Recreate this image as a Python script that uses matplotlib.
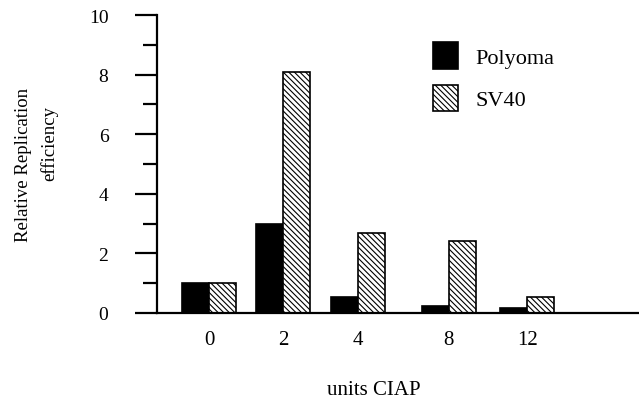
import matplotlib
matplotlib.use("Agg")
import matplotlib.pyplot as plt
import numpy as np

plt.rcParams['font.family'] = ['Liberation Serif', 'DejaVu Serif']
plt.rcParams['hatch.linewidth'] = 0.8

categories = ['0', '2', '4', '8', '12']
polyoma = [1.0, 3.0, 0.55, 0.25, 0.17]
sv40 = [1.0, 8.1, 2.7, 2.4, 0.55]

# group centres (uneven spacing as in the original)
x = np.array([0, 0.99, 2.0, 3.22, 4.27])
w = 0.36

fig = plt.figure(figsize=(6.39, 4.02), dpi=100)
ax = fig.add_axes([0.2457, 0.219, 0.754, 0.741])

ax.bar(x - w / 2, polyoma, w, color='black', edgecolor='black', linewidth=1.2, label='Polyoma')
ax.bar(x + w / 2, sv40, w, color='white', edgecolor='black', linewidth=1.2,
       hatch='\\\\\\\\\\\\', label='SV40')

ax.set_xlim(-0.70, 5.77)
ax.set_ylim(0, 10)
ax.set_xticks(x)
ax.set_xticklabels(categories)
ax.set_yticks([0, 2, 4, 6, 8, 10])
ax.set_yticks([1, 3, 5, 7, 9], minor=True)

ax.spines['top'].set_visible(False)
ax.spines['right'].set_visible(False)
ax.spines['left'].set_linewidth(1.6)
ax.spines['bottom'].set_linewidth(1.6)

ax.tick_params(axis='y', which='major', direction='out', length=16, width=1.6, labelsize=14, pad=19)
ax.tick_params(axis='y', which='minor', direction='out', length=10, width=1.6)
ax.tick_params(axis='x', length=0, labelsize=15, pad=12)

# axis titles (the two y-label lines are not centred on each other in the original)
fig.text(374 / 639, 1 - 391 / 402, 'units CIAP', fontsize=15, ha='center', va='center')
fig.text(24 / 639, 1 - 165 / 402, 'Relative Replication', fontsize=13.5, rotation=90,
         ha='center', va='center')
fig.text(49 / 639, 1 - 144 / 402, 'efficiency', fontsize=13.5, rotation=90,
         ha='center', va='center')

ax.legend(loc='upper left', bbox_to_anchor=(0.573, 0.908), frameon=False, fontsize=16,
          handlelength=1.12, handleheight=1.425, handletextpad=0.8, labelspacing=0.73,
          borderpad=0, borderaxespad=0)

fig.savefig('out.png', dpi=100)
